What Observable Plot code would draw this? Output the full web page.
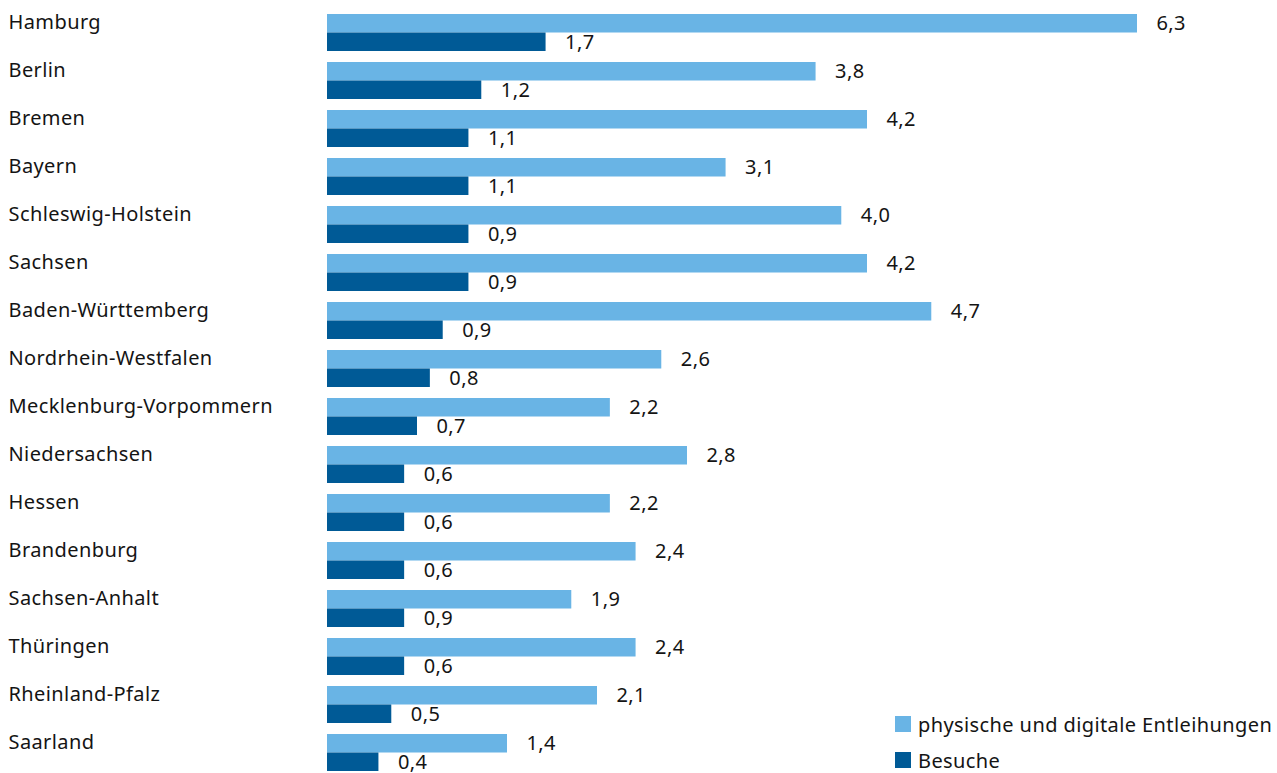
<!DOCTYPE html>
<html>
<head>
<meta charset="utf-8">
<script src="https://cdn.jsdelivr.net/npm/d3@7"></script>
<script src="https://cdn.jsdelivr.net/npm/@observablehq/plot@0.6"></script>
<style>
  html, body { margin: 0; padding: 0; background: #fff; }
  #wrap { position: relative; width: 1277px; height: 773px; font-family: "Noto Sans", sans-serif; overflow: hidden; }
  #legend { position: absolute; left: 895px; top: 714px; font-size: 20px; letter-spacing: 0.4px; color: #141414; }
  #legend div { display: flex; align-items: center; white-space: nowrap; height: 20px; margin-bottom: 16px; }
  #legend span.sw { display: inline-block; width: 16px; height: 16px; margin-right: 7px; }
</style>
</head>
<body>
<div id="wrap"><div id="legend"></div></div>
<script>
const states = ["Hamburg","Berlin","Bremen","Bayern","Schleswig-Holstein","Sachsen","Baden-Württemberg","Nordrhein-Westfalen","Mecklenburg-Vorpommern","Niedersachsen","Hessen","Brandenburg","Sachsen-Anhalt","Thüringen","Rheinland-Pfalz","Saarland"];
// bar lengths as drawn in the reference
const entleihungen = [6.3,3.8,4.2,3.1,4.0,4.2,4.7,2.6,2.2,2.8,2.2,2.4,1.9,2.4,2.1,1.4];
const besuche = [1.7,1.2,1.1,1.1,1.1,1.1,0.9,0.8,0.7,0.6,0.6,0.6,0.6,0.6,0.5,0.4];
// value labels as printed in the reference
const entleihungenLabels = ["6,3","3,8","4,2","3,1","4,0","4,2","4,7","2,6","2,2","2,8","2,2","2,4","1,9","2,4","2,1","1,4"];
const besucheLabels = ["1,7","1,2","1,1","1,1","0,9","0,9","0,9","0,8","0,7","0,6","0,6","0,6","0,9","0,6","0,5","0,4"];
const seriesNames = ["physische und digitale Entleihungen","Besuche"];
const colors = ["#69b4e5","#005a96"];

const rowsA = states.map((s,i) => ({state: s, value: entleihungen[i], label: entleihungenLabels[i]}));
const rowsB = states.map((s,i) => ({state: s, value: besuche[i], label: besucheLabels[i]}));

const chart = Plot.plot({
  width: 1277,
  height: 773,
  marginLeft: 327,
  marginRight: 140,
  marginTop: 14,
  marginBottom: 2,
  style: {fontFamily: "'Noto Sans', sans-serif", fontSize: "20px", letterSpacing: "0.4px", color: "#141414", background: "transparent"},
  x: {domain: [0, 6.3], axis: null},
  y: {domain: states, axis: null, paddingInner: 11/48, paddingOuter: 0},
  marks: [
    Plot.barX(rowsA, {x: "value", y: "state", fill: colors[0], insetBottom: 18.5}),
    Plot.barX(rowsB, {x: "value", y: "state", fill: colors[1], insetTop: 18.5}),
    Plot.text(rowsA, {x: "value", y: "state", text: "label", textAnchor: "start", dx: 19, dy: -9, fill: "#141414"}),
    Plot.text(rowsB, {x: "value", y: "state", text: "label", textAnchor: "start", dx: 19, dy: 10, fill: "#141414"}),
    Plot.text(states, {y: d => d, text: d => d, frameAnchor: "left", textAnchor: "start", dx: -319, dy: -10, fill: "#141414"})
  ]
});
document.getElementById("wrap").prepend(chart);

const leg = document.getElementById("legend");
seriesNames.forEach((n,i) => {
  const row = document.createElement("div");
  row.innerHTML = `<span class="sw" style="background:${colors[i]}"></span><span>${n}</span>`;
  leg.appendChild(row);
});
</script>
</body>
</html>
